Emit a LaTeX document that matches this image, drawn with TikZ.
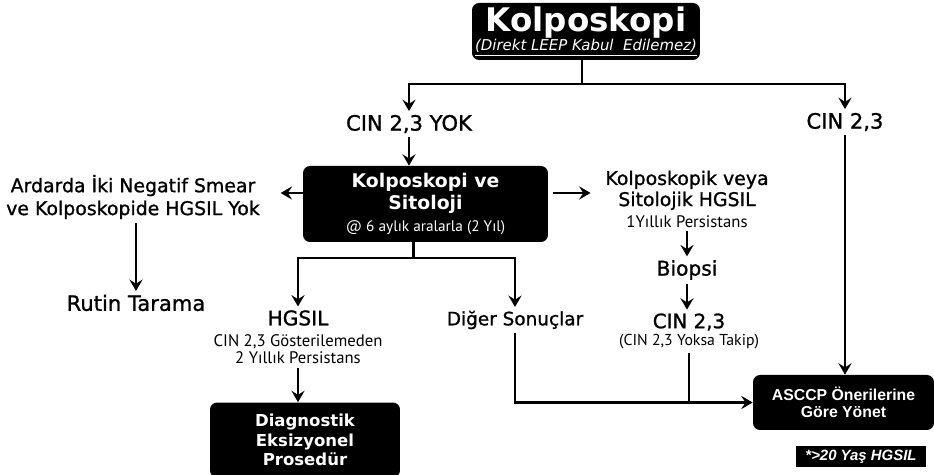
\documentclass[tikz,border=0pt]{standalone}
\usepackage{fontspec}
\setmainfont{DejaVu Sans}
\newfontfamily\lblfont[FakeBold=1.1]{DejaVu Sans}
\newfontfamily\notefont{PT Sans}
\newfontfamily\arialfont{Liberation Sans}
\usetikzlibrary{arrows.meta,calc}

\begin{document}
\begin{tikzpicture}[x=0.02cm,y=-0.02cm,
  blackbox/.style={fill=black,text=white,rounded corners=4pt,inner sep=0pt,align=center},
  lbl/.style={align=center,inner sep=2pt,font=\lblfont\fontsize{11.5}{14}\selectfont},
  note/.style={align=center,inner sep=2pt,font=\notefont\fontsize{9.5}{10}\selectfont},
  flow/.style={line width=1.2pt},
  arr/.style={flow,-{Stealth[length=6.5pt,width=7.5pt,inset=2.4pt]}},
]
\useasboundingbox (0,0) rectangle (934,475);

% boxes
\node[blackbox,minimum width=4.56cm,minimum height=1.14cm] (top) at (586,31.5)
  {{\fontsize{18.5}{19}\selectfont\bfseries Kolposkopi}\\[-1pt]
   {\fontsize{8.5}{9}\selectfont\itshape\underline{(Direkt LEEP Kabul\ \ Edilemez)}}};
\node[blackbox,minimum width=4.9cm,minimum height=1.52cm,
      font=\fontsize{10.7}{12.5}\selectfont\bfseries] (mid) at (425.5,204)
  {Kolposkopi ve\\Sitoloji\\
   {\notefont\mdseries\fontsize{8.7}{10}\selectfont @ 6 aylık aralarla (2 Yıl)}};
\node[blackbox,minimum width=3.8cm,minimum height=1.5cm,
      font=\fontsize{9.4}{11}\selectfont\bfseries] (diag) at (305,440)
  {Diagnostik\\Eksizyonel\\Prosedür};
\node[blackbox,minimum width=3.62cm,minimum height=1.1cm,
      font=\arialfont\fontsize{9}{9.8}\selectfont\bfseries] (asc) at (843.5,402.5)
  {ASCCP Önerilerine\\Göre Yönet};
\node[blackbox,rounded corners=0pt,minimum width=2.6cm,minimum height=0.42cm,
      font=\arialfont\fontsize{8.5}{10}\selectfont\bfseries\itshape] (yas) at (861,456.5)
  {*>20 Yaş HGSIL};

% text labels
\node[lbl,font=\lblfont\fontsize{12}{14}\selectfont] (yok) at (409,124) {CIN 2,3 YOK};
\node[lbl,font=\lblfont\fontsize{12}{14}\selectfont] (cin) at (845,122) {CIN 2,3};
\node[lbl,font=\lblfont\fontsize{10.75}{13}\selectfont] (ard) at (133,197)
  {Ardarda İki Negatif Smear\\ve Kolposkopide HGSIL Yok};
\node[lbl,font=\lblfont\fontsize{12}{14}\selectfont] (rutin) at (136,303) {Rutin Tarama};
\node[align=center,inner sep=2pt,font=\lblfont\fontsize{10.75}{12}\selectfont] (kv) at (687,199)
  {Kolposkopik veya\\Sitolojik HGSIL\\
   {\notefont\fontsize{9.5}{10}\selectfont 1Yıllık Persistans}};
\node[lbl,font=\lblfont\fontsize{11.5}{14}\selectfont] (bio) at (687,270) {Biopsi};
\node[lbl,font=\lblfont\fontsize{11.3}{14}\selectfont] (cinb) at (689,322) {CIN 2,3};
\node[note,font=\notefont\fontsize{9}{10}\selectfont] (takip) at (689,342) {(CIN 2,3 Yoksa Takip)};
\node[lbl] (hg) at (298,318) {HGSIL};
\node[note] (hgnote) at (298,349) {CIN 2,3 Gösterilemeden\\2 Yıllık Persistans};
\node[lbl,font=\lblfont\fontsize{10.5}{14}\selectfont] (dig) at (515,320) {Diğer Sonuçlar};

% connectors from the first box
\coordinate (hub) at ($(top.south)+(-4,24)$);
\draw[flow] (hub |- top.south) -- (hub);
\draw[arr] (hub) -| (yok.north);
\draw[arr] (hub) -| (cin.north);
\draw[arr] (yok.south) -- (yok.south |- mid.north);

% connectors from the middle box
\draw[arr] (mid.west |- 0,193) -- ([xshift=0.34cm]ard.east |- 0,193);
\draw[arr] ([xshift=0.1cm]mid.east |- 0,193) -- ([xshift=-0.22cm]kv.west |- 0,193);
\draw[arr] (ard.south -| rutin.north) -- (rutin.north);
\coordinate (hub2) at ($(mid.south)+(-12,16)$);
\draw[flow] (hub2 |- mid.south) -- (hub2);
\draw[arr] (hub2) -| (hg.north);
\draw[arr] (hub2) -| (dig.north);

% right-hand column
\draw[arr] (kv.south) -- (bio.north);
\draw[arr] (bio.south) -- (bio.south |- cinb.north);
\draw[flow] (takip.south) -- (takip.south |- asc.west);
\draw[arr] (dig.south) |- (asc.west);
\draw[arr] (cin.south) -- (cin.south |- asc.north);

% HGSIL branch
\draw[arr] (hgnote.south) -- (hgnote.south |- diag.north);
\end{tikzpicture}
\end{document}
